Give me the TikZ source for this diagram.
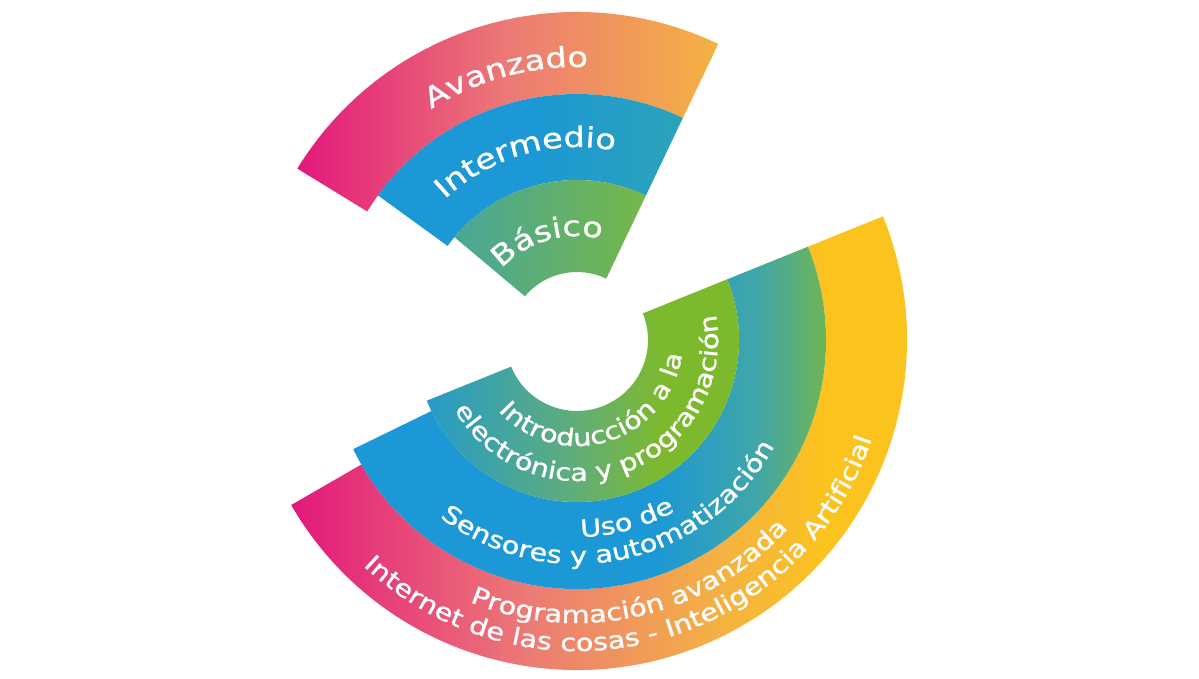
\documentclass[tikz,border=0pt]{standalone}
\usepackage{fontspec}
\newfontfamily\labelfont[FakeStretch=1.2,FakeBold=1]{DejaVu Sans}
\usetikzlibrary{calc,decorations.text}

\definecolor{magentaA}{RGB}{226,24,124}
\definecolor{salmonA}{RGB}{236,122,118}
\definecolor{orangeA}{RGB}{245,178,66}
\definecolor{yellowA}{RGB}{251,195,30}
\definecolor{blueA}{RGB}{27,152,213}
\definecolor{blueB}{RGB}{44,163,186}
\definecolor{tealA}{RGB}{64,166,168}
\definecolor{tealB}{RGB}{38,155,200}
\definecolor{tealC}{RGB}{72,167,152}
\definecolor{mixA}{RGB}{98,174,118}
\definecolor{greenA}{RGB}{125,185,45}
\definecolor{greenB}{RGB}{118,183,72}

\pgfdeclarehorizontalshading{ringwarm}{100bp}{color(0bp)=(magentaA); color(25bp)=(magentaA); color(43bp)=(salmonA); color(58bp)=(orangeA); color(66bp)=(yellowA); color(100bp)=(yellowA)}
\pgfdeclarehorizontalshading{ringblue}{100bp}{color(0bp)=(blueA); color(25bp)=(blueA); color(55bp)=(blueA); color(65bp)=(tealA); color(73bp)=(greenB); color(100bp)=(greenB)}
\pgfdeclarehorizontalshading{ringgreen}{100bp}{color(0bp)=(tealB); color(25bp)=(tealB); color(48bp)=(mixA); color(60bp)=(greenA); color(100bp)=(greenA)}

\newcommand\ringbig{\labelfont\fontsize{28}{28}\selectfont}
\newcommand\ringsmall{\labelfont\fontsize{24}{24}\selectfont}

\begin{document}
\begin{tikzpicture}[x=1pt, y=1pt,
    uptext/.style={decorate, decoration={text along path, text align=center, text color=white, text={|\ringbig|#1}}},
    lowtext/.style={decorate, decoration={text along path, text align=center, text color=white, text={|\ringsmall|#1}}}]
    \useasboundingbox (0,0) rectangle (1199,678);
    \fill[white] (0,0) rectangle (1199,678);
    \coordinate (O) at (577,338);

    %% Upper fan: levels
    \shade[left color=magentaA, right color=orangeA, middle color=salmonA] ($(O)+(148.5:246pt)$) arc[start angle=148.5, end angle=64.5, radius=246pt] -- ($(O)+(64.5:328pt)$) arc[start angle=64.5, end angle=148.5, radius=328pt] -- cycle;
    \shade[left color=blueA, right color=blueB, middle color=blueA] ($(O)+(144:160pt)$) arc[start angle=144, end angle=64.5, radius=160pt] -- ($(O)+(64.5:246pt)$) arc[start angle=64.5, end angle=144, radius=246pt] -- cycle;
    \shade[left color=tealC, right color=greenB] ($(O)+(140:68pt)$) arc[start angle=140, end angle=64.5, radius=68pt] -- ($(O)+(64.5:160pt)$) arc[start angle=64.5, end angle=140, radius=160pt] -- cycle;

    \path[uptext=Avanzado] ($(O)+(165:273pt)$) arc[start angle=165, end angle=45, radius=273pt];
    \path[uptext=Intermedio] ($(O)+(166:193pt)$) arc[start angle=166, end angle=46, radius=193pt];
    \path[uptext=Básico] ($(O)+(166.5:104pt)$) arc[start angle=166.5, end angle=46.5, radius=104pt];

    %% Lower half ring: courses
    \shade[shading=ringwarm] ($(O)+(22:249pt)$) arc[start angle=22, end angle=-150, radius=249pt] -- ($(O)+(-150:330pt)$) arc[start angle=-150, end angle=22, radius=330pt] -- cycle;
    \shade[shading=ringblue] ($(O)+(22:162pt)$) arc[start angle=22, end angle=-154, radius=162pt] -- ($(O)+(-154:249pt)$) arc[start angle=-154, end angle=22, radius=249pt] -- cycle;
    \shade[shading=ringgreen] ($(O)+(22:71pt)$) arc[start angle=22, end angle=-158, radius=71pt] -- ($(O)+(-158:162pt)$) arc[start angle=-158, end angle=22, radius=162pt] -- cycle;

    \path[lowtext=Introducción a la] ($(O)+(-163:106pt)$) arc[start angle=-163, end angle=17, radius=106pt];
    \path[lowtext=electrónica y programación] ($(O)+(-160:141pt)$) arc[start angle=-160, end angle=20, radius=141pt];
    \path[lowtext=Uso de] ($(O)+(-164.5:197pt)$) arc[start angle=-164.5, end angle=15.5, radius=197pt];
    \path[lowtext=Sensores y automatización] ($(O)+(-168:224pt)$) arc[start angle=-168, end angle=12, radius=224pt];
    \path[lowtext=Programación avanzada] ($(O)+(-167:283pt)$) arc[start angle=-167, end angle=13, radius=283pt];
    \path[lowtext=Internet de las cosas - Inteligencia Artificial] ($(O)+(-166:311pt)$) arc[start angle=-166, end angle=14, radius=311pt];
\end{tikzpicture}
\end{document}
